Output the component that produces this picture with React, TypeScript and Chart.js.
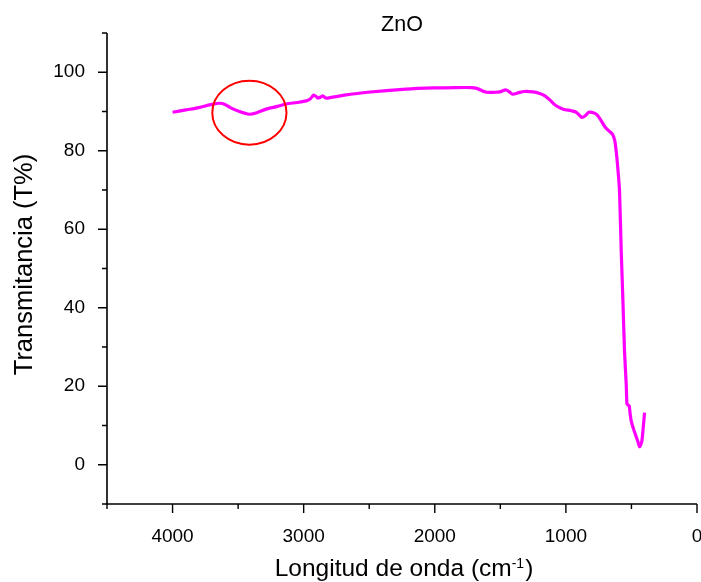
import { useEffect, useRef } from "react";
import { Chart, registerables } from "chart.js";

Chart.register(...registerables);

// FTIR spectrum of ZnO: wavenumber (cm-1) vs transmittance (%)
const wavenumbers = [
  4000, 3900, 3800, 3700, 3640, 3600, 3560, 3490, 3414, 3363, 3287, 3200, 3134,
  3050, 2981, 2950, 2923, 2905, 2892, 2870, 2854, 2840, 2828, 2700, 2513, 2220,
  2000, 1840, 1723, 1680, 1640, 1606, 1540, 1503, 1460, 1430, 1407, 1360, 1320,
  1250, 1200, 1160, 1120, 1080, 1020, 960, 920, 878, 850, 825, 790, 760, 730,
  700, 670, 649, 635, 624, 612, 600, 591, 578, 565, 553, 540, 534, 525, 517,
  510, 502, 485, 471, 450, 438, 428, 420, 410, 400,
];
const transmittance = [
  89.8, 90.4, 91.0, 91.8, 92.1, 91.8, 91.0, 90.0, 89.3, 89.6, 90.6, 91.3, 91.9,
  92.3, 92.7, 93.2, 94.2, 93.8, 93.4, 93.7, 94.0, 93.6, 93.4, 94.1, 94.9, 95.7,
  96.0, 96.1, 96.1, 95.9, 95.3, 94.9, 94.9, 95.0, 95.5, 95.0, 94.4, 94.8, 95.1,
  95.0, 94.6, 94.0, 92.9, 91.6, 90.6, 90.2, 89.8, 88.5, 89.0, 89.8, 89.7, 89.1,
  87.6, 86.0, 85.0, 84.4, 83.5, 82.0, 78.5, 74.0, 69.8, 54.5, 41.8, 29.0, 20.6,
  15.5, 15.2, 15.0, 13.0, 11.2, 9.2, 7.8, 5.8, 4.6, 5.2, 6.1, 9.5, 13.3,
];

const xTickValues = [4000, 3000, 2000, 1000, 0];
const xMinorTickValues = [4500, 3500, 2500, 1500, 500];
const yTickValues = [0, 20, 40, 60, 80, 100];
const yMinorTickValues = [-10, 10, 30, 50, 70, 90, 110];

const chartTitle = "ZnO";
const yAxisTitle = "Transmitancia (T%)";
const xAxisTitleMain = "Longitud de onda (cm";
const xAxisTitleSup = "-1";
const xAxisTitleEnd = ")";

// highlighted O–H band: centre and half-widths in data units
const markerCenter = { x: 3414, y: 89.7 };
const markerRadius = { x: 283, y: 8.15 };

const FONT = '"Liberation Sans", Arial, Helvetica, sans-serif';

const decorations = {
  id: "decorations",
  afterDatasetsDraw(chart: any) {
    const { ctx, chartArea, scales } = chart;
    const xs = scales.x;
    const ys = scales.y;
    const { left, right, top, bottom } = chartArea;
    ctx.save();

    // axis lines
    ctx.strokeStyle = "#000";
    ctx.lineWidth = 1.6;
    ctx.beginPath();
    ctx.moveTo(left, top);
    ctx.lineTo(left, bottom);
    ctx.moveTo(left - 1, bottom);
    ctx.lineTo(right, bottom);
    ctx.stroke();

    // tick marks
    ctx.lineWidth = 1.4;
    ctx.beginPath();
    for (const v of xTickValues) {
      const px = xs.getPixelForValue(v);
      ctx.moveTo(px, bottom);
      ctx.lineTo(px, bottom + 9);
    }
    for (const v of xMinorTickValues) {
      const px = xs.getPixelForValue(v);
      ctx.moveTo(px, bottom);
      ctx.lineTo(px, bottom + 5);
    }
    for (const v of yTickValues) {
      const py = ys.getPixelForValue(v);
      ctx.moveTo(left - 9, py);
      ctx.lineTo(left, py);
    }
    for (const v of yMinorTickValues) {
      const py = ys.getPixelForValue(v);
      ctx.moveTo(left - 5, py);
      ctx.lineTo(left, py);
    }
    ctx.stroke();

    // red ellipse around the band
    const cx = xs.getPixelForValue(markerCenter.x);
    const cy = ys.getPixelForValue(markerCenter.y);
    const rx = Math.abs(xs.getPixelForValue(markerCenter.x + markerRadius.x) - cx);
    const ry = Math.abs(ys.getPixelForValue(markerCenter.y + markerRadius.y) - cy);
    ctx.strokeStyle = "#FF0000";
    ctx.lineWidth = 2;
    ctx.beginPath();
    ctx.ellipse(cx, cy, rx, ry, 0, 0, Math.PI * 2);
    ctx.stroke();

    // chart title
    ctx.fillStyle = "#000";
    ctx.textAlign = "center";
    ctx.textBaseline = "alphabetic";
    ctx.font = `21.5px ${FONT}`;
    ctx.fillText(chartTitle, (left + right) / 2, 30.5);

    // y-axis title
    ctx.save();
    ctx.translate(31.5, (top + bottom) / 2 - 4);
    ctx.rotate(-Math.PI / 2);
    ctx.font = `25.5px ${FONT}`;
    ctx.textAlign = "center";
    ctx.fillText(yAxisTitle, 0, 0);
    ctx.restore();

    // x-axis title with superscript
    ctx.textAlign = "left";
    const mainFont = `24.5px ${FONT}`;
    const supFont = `14px ${FONT}`;
    ctx.font = mainFont;
    const wMain = ctx.measureText(xAxisTitleMain).width;
    const wEnd = ctx.measureText(xAxisTitleEnd).width;
    ctx.font = supFont;
    const wSup = ctx.measureText(xAxisTitleSup).width;
    const total = wMain + wSup + 1 + wEnd;
    let tx = (left + right) / 2 + 2 - total / 2;
    const base = 576;
    ctx.font = mainFont;
    ctx.fillText(xAxisTitleMain, tx, base);
    tx += wMain;
    ctx.font = supFont;
    ctx.fillText(xAxisTitleSup, tx, base - 8);
    tx += wSup + 1;
    ctx.font = mainFont;
    ctx.fillText(xAxisTitleEnd, tx, base);

    ctx.restore();
  },
};

export default function App() {
  const canvasRef = useRef<HTMLCanvasElement | null>(null);

  useEffect(() => {
    const canvas = canvasRef.current;
    if (!canvas) return;
    const chart = new Chart(canvas, {
      type: "line",
      data: {
        datasets: [
          {
            data: wavenumbers.map((x, i) => ({ x, y: transmittance[i] })),
            borderColor: "#FF00FF",
            borderWidth: 3.2,
            pointRadius: 0,
            tension: 0.25,
            fill: false,
          },
        ],
      },
      options: {
        animation: false,
        responsive: false,
        devicePixelRatio: 1,
        layout: { padding: { top: 33, right: 4, left: 0, bottom: 0 } },
        plugins: {
          legend: { display: false },
          tooltip: { enabled: false },
          title: { display: false },
        },
        scales: {
          x: {
            type: "linear",
            reverse: true,
            min: 0,
            max: 4500,
            grid: { display: false },
            border: { display: false },
            ticks: {
              color: "#000",
              font: { family: FONT, size: 19 },
              padding: 13,
              maxRotation: 0,
              autoSkip: false,
              callback: (v: any) => String(v),
            },
            afterBuildTicks: (s: any) => {
              s.ticks = xTickValues.map((v) => ({ value: v }));
            },
            afterFit: (s: any) => {
              s.height = 78;
              s.paddingLeft = 0;
              s.paddingRight = 0;
            },
          },
          y: {
            type: "linear",
            min: -10,
            max: 110,
            grid: { display: false },
            border: { display: false },
            ticks: {
              color: "#000",
              font: { family: FONT, size: 19 },
              padding: 14,
              autoSkip: false,
              callback: (v: any) => String(v),
            },
            afterBuildTicks: (s: any) => {
              s.ticks = yTickValues.map((v) => ({ value: v }));
            },
            afterFit: (s: any) => {
              s.width = 107;
              s.paddingTop = 0;
              s.paddingBottom = 0;
            },
          },
        },
      },
      plugins: [decorations],
    });
    return () => chart.destroy();
  }, []);

  return (
    <div style={{ position: "absolute", left: 0, top: 0, width: 701, height: 582, background: "#fff" }}>
      <canvas ref={canvasRef} width={701} height={582} style={{ display: "block" }} />
    </div>
  );
}
